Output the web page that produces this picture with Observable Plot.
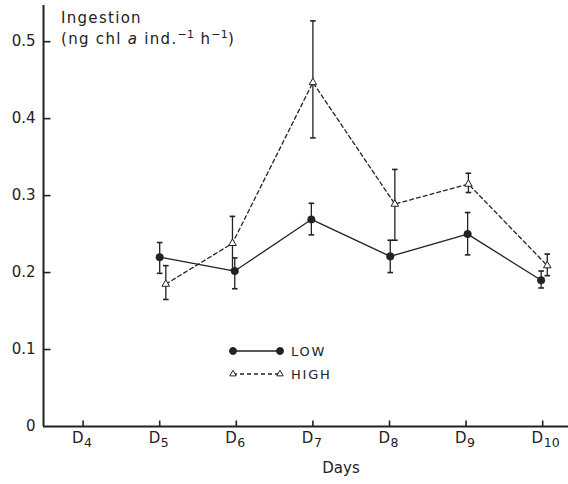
<!DOCTYPE html>
<html>
<head>
<meta charset="utf-8">
<script src="https://cdn.jsdelivr.net/npm/d3@7"></script>
<script src="https://cdn.jsdelivr.net/npm/@observablehq/plot@0.6"></script>
<style>
  html, body { margin: 0; padding: 0; background: #fff; }
  #wrap { position: relative; width: 568px; height: 484px; font-family: "DejaVu Sans", sans-serif; color: #222; }
  #ylab { position: absolute; left: 61px; top: 8px; font-size: 15px; line-height: 21px; letter-spacing: 1.3px; }
  #ylab sup { font-size: 11px; vertical-align: 6px; line-height: 0; letter-spacing: 0.3px; }
  #legend { position: absolute; left: 0; top: 0; }
</style>
</head>
<body>
<div id="wrap">
  <div id="chart"></div>
  <div id="ylab">Ingestion<br>(ng chl <i>a</i> ind.<sup>−1</sup> h<sup>−1</sup>)</div>
</div>
<script>
// ---- data ----
const dayTicks = [4, 5, 6, 7, 8, 9, 10];
const yTicks = [0, 0.1, 0.2, 0.3, 0.4, 0.5];

const lowX     = [5.00, 5.98, 6.98, 8.01, 9.02, 9.98];
const lowMean  = [0.220, 0.202, 0.269, 0.221, 0.250, 0.190];
const lowUpper = [0.239, 0.219, 0.290, 0.242, 0.278, 0.202];
const lowLower = [0.199, 0.179, 0.249, 0.200, 0.223, 0.180];

const highX     = [5.08, 5.95, 7.00, 8.07, 9.03, 10.06];
const highMean  = [0.185, 0.238, 0.447, 0.289, 0.315, 0.209];
const highUpper = [0.209, 0.273, 0.527, 0.334, 0.329, 0.224];
const highLower = [0.165, 0.203, 0.375, 0.242, 0.304, 0.196];

const xDomain = [3.483, 10.337];
const yDomain = [0, 0.547];

const low = lowX.map((x, i) => ({x, m: lowMean[i], hi: lowUpper[i], lo: lowLower[i]}));
const high = highX.map((x, i) => ({x, m: highMean[i], hi: highUpper[i], lo: highLower[i]}));

const ink = "#222";
const font = "'DejaVu Sans', sans-serif";
const capH = {draw(c) { c.moveTo(-2.8, 0); c.lineTo(2.8, 0); }};
const tickRight = {draw(c) { c.moveTo(0, 0); c.lineTo(7, 0); }};
const tickUp = {draw(c) { c.moveTo(0, 0); c.lineTo(0, -6); }};

const chart = Plot.plot({
  width: 568, height: 484,
  marginLeft: 43, marginRight: 0, marginTop: 5, marginBottom: 58,
  style: {fontFamily: font, color: ink, background: "#fff"},
  x: {domain: xDomain},
  y: {domain: yDomain},
  marks: [
    Plot.axisY({ticks: yTicks, tickSize: 0, tickPadding: 8, fontSize: 15, label: null,
      tickFormat: d => d === 0 ? "0" : d.toFixed(1)}),
    Plot.axisX({ticks: [], label: null, tickSize: 0}),
    // axes lines
    Plot.ruleY([0], {stroke: ink, strokeWidth: 2}),
    Plot.ruleX([xDomain[0]], {stroke: ink, strokeWidth: 2}),
    Plot.dot(yTicks.filter(d => d > 0), {y: d => d, frameAnchor: "left", symbol: tickRight, stroke: ink, strokeWidth: 1.6, fill: "none"}),
    Plot.dot(dayTicks, {x: d => d, frameAnchor: "bottom", symbol: tickUp, stroke: ink, strokeWidth: 1.6, fill: "none"}),
    // x tick labels D with subscript
    Plot.text(dayTicks, {x: d => d, text: () => "D", frameAnchor: "bottom", textAnchor: "end", dx: 0.5, dy: 16, fontSize: 15, fill: ink}),
    Plot.text(dayTicks, {x: d => d, text: d => String(d), frameAnchor: "bottom", textAnchor: "start", dx: 1, dy: 20.5, fontSize: 12.5, fill: ink}),
    Plot.text(["Days"], {text: d => d, frameAnchor: "bottom", dx: 35, dy: 46, fontSize: 15, fill: ink}),
    // series lines
    Plot.line(high, {x: "x", y: "m", stroke: ink, strokeWidth: 1.3, strokeDasharray: "4,3"}),
    Plot.line(low, {x: "x", y: "m", stroke: ink, strokeWidth: 1.3}),
    // error bars
    Plot.ruleX(high, {x: "x", y1: "lo", y2: "hi", stroke: ink, strokeWidth: 1.3}),
    Plot.ruleX(low, {x: "x", y1: "lo", y2: "hi", stroke: ink, strokeWidth: 1.3}),
    Plot.dot(high, {x: "x", y: "hi", symbol: capH, stroke: ink, strokeWidth: 1.6, fill: "none"}),
    Plot.dot(high, {x: "x", y: "lo", symbol: capH, stroke: ink, strokeWidth: 1.6, fill: "none"}),
    Plot.dot(low, {x: "x", y: "hi", symbol: capH, stroke: ink, strokeWidth: 1.6, fill: "none"}),
    Plot.dot(low, {x: "x", y: "lo", symbol: capH, stroke: ink, strokeWidth: 1.6, fill: "none"}),
    // markers
    Plot.dot(high, {x: "x", y: "m", symbol: "triangle", r: 2.8, fill: "#fff", stroke: ink, strokeWidth: 1}),
    Plot.dot(low, {x: "x", y: "m", symbol: "circle", r: 3.8, fill: ink, stroke: ink, strokeWidth: 0.5})
  ]
});
document.getElementById("chart").appendChild(chart);

// legend overlay
const leg = d3.select("#wrap").append("svg").attr("id", "legend")
  .attr("width", 568).attr("height", 484);
const legendItems = [
  {label: "LOW", dash: null, sym: d3.symbolCircle, fill: ink, y: 351, size: 38},
  {label: "HIGH", dash: "4,3", sym: d3.symbolTriangle, fill: "#fff", y: 374, size: 18}
];
legendItems.forEach(it => {
  const g = leg.append("g").attr("transform", `translate(0,${it.y})`);
  g.append("line").attr("x1", 233).attr("x2", 280).attr("stroke", ink).attr("stroke-width", 1.3)
    .attr("stroke-dasharray", it.dash);
  [233, 280].forEach(x => g.append("path").attr("d", d3.symbol(it.sym, it.size)())
    .attr("transform", `translate(${x},0)`).attr("fill", it.fill).attr("stroke", ink).attr("stroke-width", 1));
  g.append("text").attr("x", 291).attr("y", 5).attr("font-size", 13).attr("letter-spacing", 1.8)
    .attr("font-family", font).attr("fill", ink).text(it.label);
});
</script>
</body>
</html>
